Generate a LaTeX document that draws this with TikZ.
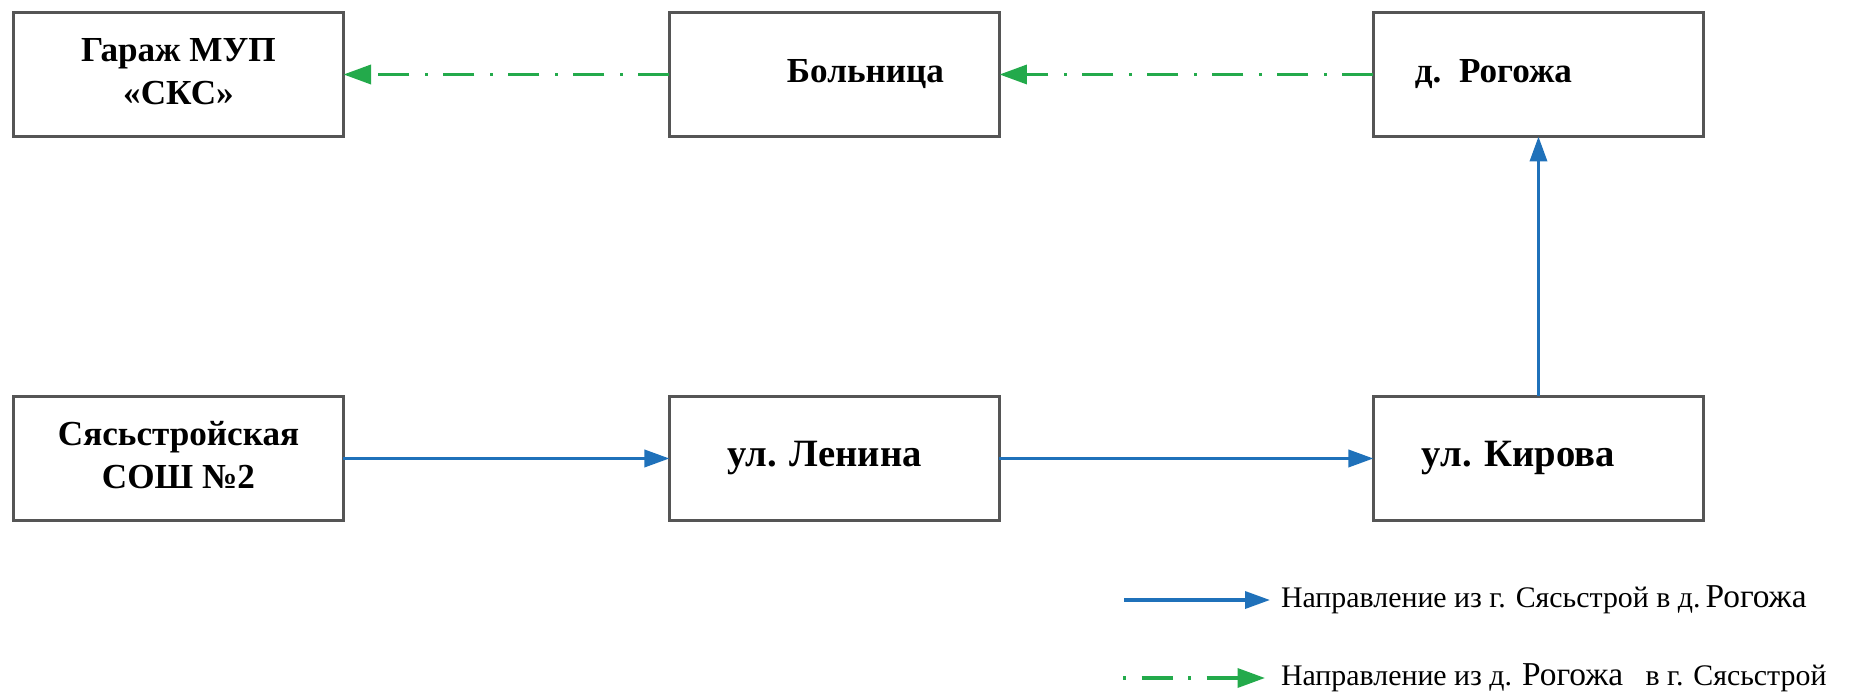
\documentclass[tikz,border=0pt]{standalone}
\usepackage{fontspec}
\setmainfont{Liberation Serif}
\usetikzlibrary{arrows.meta, matrix, positioning}
\definecolor{routeblue}{RGB}{31,113,186}
\definecolor{routegreen}{RGB}{35,170,75}
\definecolor{boxgray}{RGB}{85,85,85}
\tikzset{
	forth line/.style={draw=routeblue, line width=2pt, -{Triangle[length=0.5cm, width=0.34cm]}},
	back line/.style={draw=routegreen, line width=2pt,
		dash pattern=on 0.62cm off 0.31cm on 0.06cm off 0.31cm,
		-{Triangle[length=0.55cm, width=0.38cm]}},
	legend text/.style={inner sep=0pt, font=\fontsize{17}{19}\selectfont},
	street/.style={font=\fontsize{22}{24}\selectfont\bfseries}
}

\begin{document}
\begin{tikzpicture} [outer sep=0pt]
%    border/.style={draw}
\useasboundingbox (0,0) rectangle (37.04,13.96);

\matrix(route)[matrix of nodes, ampersand replacement=\&,
anchor=north west, inner sep=0pt,
row sep=5.14cm, column sep=6.46cm,
nodes={draw=boxgray, line width=1.7pt, anchor=center,
	minimum width=6.6cm, minimum height=2.48cm,
	font=\fontsize{20}{24}\selectfont\bfseries}] at (0.24,13.74)
{ % \&[...] widens the second gap
	|(garage)| \begin{tabular}{@{}c@{}}Гараж МУП\\«СКС»\end{tabular} \& |(hospital)| \hspace*{1.24cm}Больница \&[0.96cm] |(rogozha)| д.~~Рогожа\hspace*{1.8cm} \\
	|(school)| \begin{tabular}{@{}c@{}}Сясьстройская\\СОШ №2\end{tabular} \& |[street](lenin)| ул. Ленина\hspace*{0.4cm} \& |[street](kirov)| ул. Кирова\hspace*{0.8cm} \\
};

\draw[back line] (hospital.west) -- (garage.east);
\draw[back line] (rogozha.west) -- (hospital.east);
\draw[forth line] (school.east) -- (lenin.west);
\draw[forth line] (lenin.east) -- (kirov.west);
\draw[forth line] (kirov.north) -- (rogozha.south);

% legend
\coordinate (blue start) at (22.48,1.96);
\coordinate (blue end) at (25.40,1.96);
\coordinate (green start) at (22.46,0.40);
\coordinate (green end) at (25.30,0.40);
\draw[forth line] (blue start) -- (blue end);
\draw[back line, dash phase=0.93cm] (green start) -- (green end);
\node (blue text) [legend text, right=0.22cm of blue end] {Направление из г. Сясьстрой в д.\,{\fontsize{19}{19}\selectfont Рогожа}};
\node (green text) [legend text, right=0.32cm of green end] {Направление из д. {\fontsize{19}{19}\selectfont Рогожа}\ \ \ в г. Сясьстрой};

\end{tikzpicture}
\end{document}
